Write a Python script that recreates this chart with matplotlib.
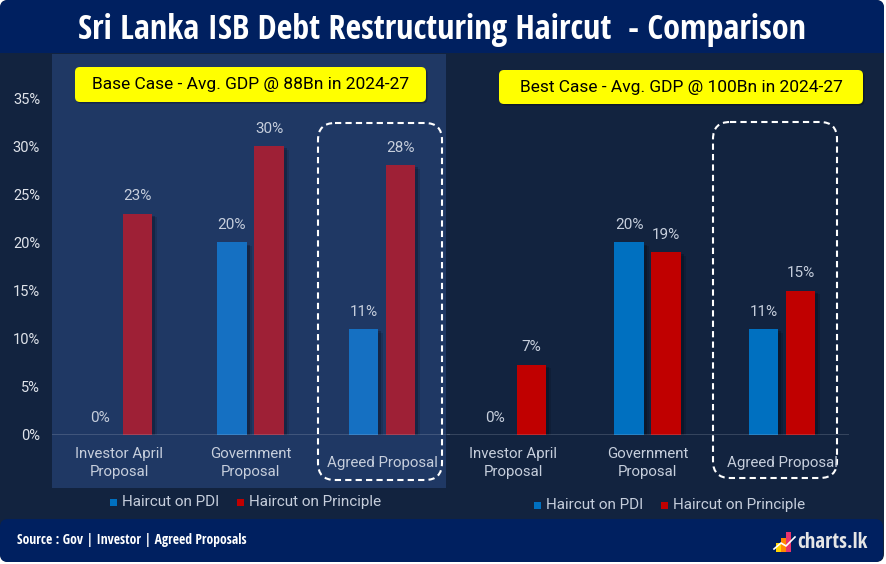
import os
import numpy as np
import matplotlib
matplotlib.use("Agg")
import matplotlib.pyplot as plt
from matplotlib import font_manager as fm
from matplotlib.patches import FancyBboxPatch, Rectangle
from matplotlib import patheffects as pe
import matplotlib.transforms as mtrans

# ---------------- data ----------------
categories = ["Investor April\nProposal", "Government\nProposal", "Agreed Proposal"]
series_names = ["Haircut on PDI", "Haircut on Principle"]
base_pdi = [0, 20, 11]
base_principle = [23, 30, 28]
best_pdi = [0, 20, 11]
best_principle = [7.3, 19, 15]
y_ticks = [0, 5, 10, 15, 20, 25, 30, 35]
title = "Sri Lanka ISB Debt Restructuring Haircut  - Comparison"
base_caption = "Base Case - Avg. GDP @ 88Bn in 2024-27"
best_caption = "Best Case - Avg. GDP @ 100Bn in 2024-27"
source_text = "Source : Gov | Investor | Agreed Proposals"
brand = "charts.lk"

# ---------------- fonts ----------------
def find_font(patterns):
    files = {os.path.basename(f.fname).lower(): f.fname for f in fm.fontManager.ttflist}
    for p in patterns:
        for k, v in files.items():
            if p.lower() in k:
                return fm.FontProperties(fname=v)
    return None

cond = find_font(["OpenSans-CondBold", "OpenSansCondensed-Bold", "OpenSans_Condensed-Bold",
                  "RobotoCondensed-Bold", "LiberationSansNarrow-Bold",
                  "DejaVuSansCondensed-Bold"])
if cond is None:
    cond = fm.FontProperties(family="DejaVu Sans", weight="bold")

body_family = ["Roboto", "DejaVu Sans"]
plt.rcParams["font.family"] = body_family

W, H = 886, 564
fig = plt.figure(figsize=(W / 100, H / 100), dpi=100)
fig.patch.set_facecolor("white")

bg = fig.add_axes([0, 0, 1, 1], zorder=0)
bg.set_xlim(0, W)
bg.set_ylim(H, 0)
bg.axis("off")

DARK = "#12233f"
NAVY = "#002060"
PANEL = "#1f3864"
LABEL = "#c6cedc"

# outer background
bg.add_patch(FancyBboxPatch((0, 0), W - 2, H - 2, boxstyle="round,pad=0,rounding_size=8",
                            fc=DARK, ec="none"))
# title banner
bg.add_patch(FancyBboxPatch((0, 0), W - 2, 60, boxstyle="round,pad=0,rounding_size=8",
                            fc=NAVY, ec="none"))
bg.add_patch(Rectangle((0, 40), W - 2, 13, fc=NAVY, ec="none"))
bg.add_patch(Rectangle((0, 53), W - 2, 10, fc=DARK, ec="none"))
# footer banner
bg.add_patch(FancyBboxPatch((0, 519), W - 3, 43, boxstyle="round,pad=0,rounding_size=8",
                            fc=NAVY, ec="none"))
# left light panel
bg.add_patch(Rectangle((52, 54), 394, 434, fc=PANEL, ec="none"))

renderer = fig.canvas.get_renderer()

def fit(t, width_px):
    for _ in range(3):
        bb = t.get_window_extent(renderer)
        t.set_fontsize(t.get_fontsize() * width_px / bb.width)

t = bg.text(442, 30, title, color="white", fontproperties=cond, fontsize=26,
            ha="center", va="center")
fit(t, 728)

s = bg.text(17, 540, source_text, color="white", fontproperties=cond, fontsize=11,
            ha="left", va="center")
fit(s, 229)

b = bg.text(797, 543, brand, color="#e6e6e6", fontproperties=cond, fontsize=16,
            ha="left", va="center")
fit(b, 70)
# small logo bars
bg.add_patch(Rectangle((776, 543), 5, 9, fc="#ffd400", ec="none"))
bg.add_patch(Rectangle((781, 538), 5, 14, fc="#ff8a00", ec="none"))
bg.add_patch(Rectangle((786, 532), 5, 20, fc="#e8336d", ec="none"))
bg.plot([774, 781, 786, 795], [549, 543, 546, 537], color="white", lw=1.2)

# yellow captions
for (x0, y0, x1, y1, txt) in [(75, 67, 426, 102, base_caption), (499, 70, 863, 104, best_caption)]:
    bg.add_patch(FancyBboxPatch((x0 + 1.5, y0 + 1.5), x1 - x0, y1 - y0,
                                boxstyle="round,pad=0,rounding_size=5",
                                fc="black", ec="none", alpha=0.3))
    bg.add_patch(FancyBboxPatch((x0, y0), x1 - x0, y1 - y0,
                                boxstyle="round,pad=0,rounding_size=5",
                                fc="#ffff00", ec="none"))
    tt = bg.text((x0 + x1) / 2, (y0 + y1) / 2 + 0.5, txt, color="black", fontsize=12.5,
                 ha="center", va="center")

# dashed highlight boxes
for (x0, y0, x1, y1) in [(318, 123, 442, 480), (713, 122, 837, 478)]:
    bg.add_patch(FancyBboxPatch((x0, y0), x1 - x0, y1 - y0,
                                boxstyle="round,pad=0,rounding_size=17",
                                fc="none", ec="white", lw=1.5, ls=(0, (3, 2)), zorder=5))

# ---------------- charts ----------------
y0_px, y35_px = 435, 98

def make_ax(xl, xr, centers_px):
    left = xl / W
    width = (xr - xl) / W
    bottom = (H - y0_px) / H
    height = (y0_px - y35_px) / H
    ax = fig.add_axes([left, bottom, width, height], zorder=2)
    ax.patch.set_alpha(0)
    sp = (centers_px[-1] - centers_px[0]) / 2
    ax.set_xlim(-(centers_px[0] - xl) / sp, 2 + (xr - centers_px[-1]) / sp)
    ax.set_ylim(0, 35)
    for spn in ax.spines.values():
        spn.set_visible(False)
    ax.set_xticks([])
    return ax, sp

shadow = [pe.SimplePatchShadow(offset=(2.0, -1.5), shadow_rgbFace="black", alpha=0.22),
          pe.SimplePatchShadow(offset=(3.5, -2.5), shadow_rgbFace="black", alpha=0.12),
          pe.Normal()]

def draw(ax, sp, pdi, prin, c_pdi, c_prin, leg_y, leg_x):
    x = np.arange(len(categories))
    bw = 29.5 / sp
    off = 18.5 / sp
    b1 = ax.bar(x - off, pdi, bw, color=c_pdi, zorder=3)
    b2 = ax.bar(x + off, prin, bw, color=c_prin, zorder=3)
    for bar in list(b1) + list(b2):
        bar.set_path_effects(shadow)
    for xi, v in zip(x - off, pdi):
        ax.annotate(f"{round(v):.0f}%", (xi, v), xytext=(0, 12.5), textcoords="offset points",
                    ha="center", va="center", color=LABEL, fontsize=11, annotation_clip=False)
    for xi, v in zip(x + off, prin):
        ax.annotate(f"{round(v):.0f}%", (xi, v), xytext=(0, 12.5), textcoords="offset points",
                    ha="center", va="center", color=LABEL, fontsize=11, annotation_clip=False)
    ax.axhline(0, color="#c8cfdc", lw=1.0, zorder=4)
    tr = mtrans.blended_transform_factory(ax.transData, bg.transData)
    for xi, c in zip(x, categories):
        ax.text(xi, 463, c, transform=tr, ha="center", va="center", color=LABEL,
                fontsize=10.8, linespacing=1.33)
    # legend
    bx, rx = leg_x
    bg.add_patch(Rectangle((bx, leg_y - 3.5), 7, 7, fc="#0070c0", ec="none"))
    bg.text(bx + 12, leg_y, series_names[0], color=LABEL, fontsize=11, ha="left", va="center")
    bg.add_patch(Rectangle((rx, leg_y - 3.5), 7, 7, fc="#c00000", ec="none"))
    bg.text(rx + 12, leg_y, series_names[1], color=LABEL, fontsize=11, ha="left", va="center")

axL, spL = make_ax(52, 450, [119, 251, 382])
axL.set_yticks(y_ticks)
axL.set_yticklabels([f"{v}%" for v in y_ticks])
axL.tick_params(axis="y", length=0, pad=8.6, labelsize=10.5, labelcolor="#dfe3ea")
draw(axL, spL, base_pdi, base_principle, "#1570c2", "#9e2036", 502, (110, 237))

axR, spR = make_ax(447, 849, [513, 648, 782])
axR.set_yticks([])
draw(axR, spR, best_pdi, best_principle, "#0070c0", "#c00000", 505, (534, 661))

fig.savefig("out.png", dpi=100, facecolor=fig.get_facecolor())
